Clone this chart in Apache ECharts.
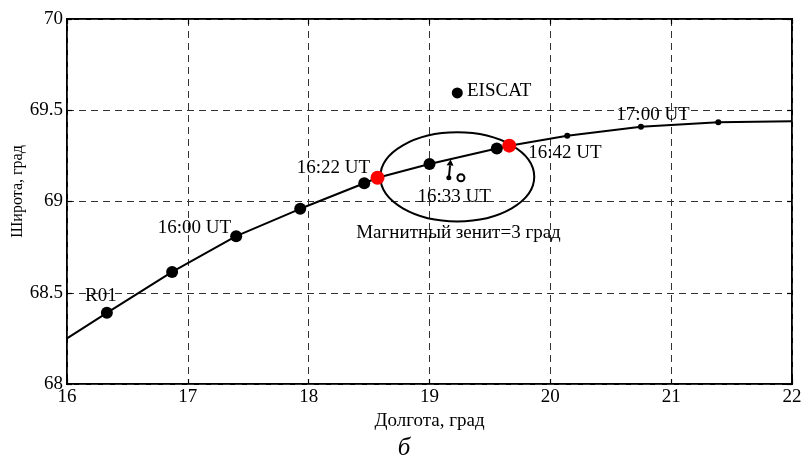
<!DOCTYPE html>
<html>
<head>
<meta charset="utf-8">
<script src="https://cdn.jsdelivr.net/npm/echarts@6/dist/echarts.min.js"></script>
<style>
  html, body { margin: 0; padding: 0; background: #fff; }
  #chart { width: 805px; height: 462px; }
</style>
</head>
<body>
<div id="chart"></div>
<script>
// Satellite footprint track: longitude / latitude (degrees)
var trackPath = [
  [16.00, 68.25], [16.33, 68.39], [16.87, 68.614], [17.40, 68.81],
  [17.93, 68.96], [18.46, 69.10], [18.57, 69.13], [19.00, 69.205],
  [19.557, 69.29], [19.66, 69.306], [20.14, 69.36], [20.75, 69.41],
  [21.39, 69.434], [22.00, 69.44]
];
// Track markers
var bigDots = [
  [16.33, 68.39], [16.87, 68.614], [17.40, 68.81], [17.93, 68.96],
  [18.46, 69.10], [19.00, 69.205], [19.557, 69.29]
];
var smallDots = [[20.14, 69.36], [20.75, 69.41], [21.39, 69.434]];
var redDots = [[18.57, 69.13], [19.66, 69.306]];
// EISCAT site
var eiscat = [[19.23, 69.595]];
// Magnetic zenith point and direction arrow
var zenithRing = [[19.26, 69.13]];
var arrowSeg = [[19.16, 69.13, 19.175, 69.23]];
// Field of view ellipse: centre lon, centre lat, half-width lon, half-height lat
var fovEllipse = [[19.23, 69.135, 0.637, 0.244]];
// Text annotations: lon, lat, text, align
var notes = [
  [16.28, 68.48, 'R01', 'center'],
  [17.055, 68.855, '16:00 UT', 'center'],
  [18.204, 69.184, '16:22 UT', 'center'],
  [19.205, 69.027, '16:33 UT', 'center'],
  [20.12, 69.268, '16:42 UT', 'center'],
  [20.85, 69.474, '17:00 UT', 'center'],
  [19.31, 69.605, 'EISCAT', 'left'],
  [19.24, 68.827, 'Магнитный зенит=3 град', 'center']
];
var xTicks = [16, 17, 18, 19, 20, 21, 22];
var yTicks = [68, 68.5, 69, 69.5, 70];

var FONT = '"Liberation Serif", "Times New Roman", serif';
var FS = 19;

var chart = echarts.init(document.getElementById('chart'), null, { renderer: 'canvas' });

var dashGrid = { show: true, lineStyle: { color: '#333', type: [7, 5], width: 1 } };
var innerTick = { show: true, inside: true, length: 5, lineStyle: { color: '#000', width: 1.2 } };

chart.setOption({
  animation: false,
  backgroundColor: '#fff',
  grid: {
    left: 67, right: 13, top: 19, bottom: 78,
    containLabel: false, outerBoundsMode: 'none',
    show: true, borderColor: '#000', borderWidth: 2, backgroundColor: 'transparent'
  },
  xAxis: [{
    type: 'value', min: xTicks[0], max: xTicks[xTicks.length - 1], interval: 1,
    name: 'Долгота, град', nameLocation: 'middle', nameGap: 19,
    nameTextStyle: { fontFamily: FONT, fontSize: FS, color: '#000' },
    axisLine: { show: false },
    axisTick: innerTick,
    axisLabel: { fontFamily: FONT, fontSize: FS, color: '#000', margin: 4 },
    splitLine: dashGrid
  }, {
    type: 'value', position: 'top', min: xTicks[0], max: xTicks[xTicks.length - 1], interval: 1,
    axisLine: { show: false },
    axisTick: innerTick,
    axisLabel: { show: false }, splitLine: { show: false }
  }],
  yAxis: [{
    type: 'value', min: yTicks[0], max: yTicks[yTicks.length - 1], interval: 0.5,
    name: 'Широта, град', nameLocation: 'middle', nameGap: 49, nameRotate: 90,
    nameMoveOverlap: false,
    nameTextStyle: { fontFamily: FONT, fontSize: 16, color: '#000', verticalAlign: 'middle',
      padding: [0, 0, 0, 20] },
    axisLine: { show: false },
    axisTick: innerTick,
    axisLabel: { fontFamily: FONT, fontSize: FS, color: '#000', margin: 4 },
    splitLine: dashGrid
  }, {
    type: 'value', position: 'right', min: yTicks[0], max: yTicks[yTicks.length - 1], interval: 0.5,
    axisLine: { show: false },
    axisTick: innerTick,
    axisLabel: { show: false }, splitLine: { show: false }
  }],
  graphic: [{
    type: 'text', x: 404, y: 448,
    style: { text: 'б', font: 'italic 25px ' + FONT, fill: '#000', align: 'center', verticalAlign: 'middle' }
  }],
  series: [
    {
      type: 'custom', name: 'fov', coordinateSystem: 'cartesian2d', data: fovEllipse, z: 2,
      renderItem: function (params, api) {
        var c = api.coord([api.value(0), api.value(1)]);
        var s = api.size([api.value(2), api.value(3)]);
        return {
          type: 'ellipse',
          shape: { cx: c[0], cy: c[1], rx: s[0], ry: s[1] },
          style: { fill: 'none', stroke: '#000', lineWidth: 2 }
        };
      }
    },
    {
      type: 'line', name: 'track', data: trackPath, showSymbol: false, symbol: 'none',
      smooth: false,
      lineStyle: { color: '#000', width: 2 }, z: 3
    },
    {
      type: 'scatter', data: bigDots, symbol: 'circle', symbolSize: 12,
      itemStyle: { color: '#000', opacity: 1 }, z: 4
    },
    {
      type: 'scatter', data: smallDots, symbol: 'circle', symbolSize: 6,
      itemStyle: { color: '#000', opacity: 1 }, z: 4
    },
    {
      type: 'scatter', data: redDots, symbol: 'circle', symbolSize: 14,
      itemStyle: { color: '#ff0000', opacity: 1 }, z: 5
    },
    {
      type: 'scatter', data: eiscat, symbol: 'circle', symbolSize: 11,
      itemStyle: { color: '#000', opacity: 1 }, z: 4
    },
    {
      type: 'scatter', data: zenithRing, symbol: 'circle', symbolSize: 7,
      itemStyle: { color: '#fff', borderColor: '#000', borderWidth: 2, opacity: 1 }, z: 4
    },
    {
      type: 'custom', name: 'arrow', coordinateSystem: 'cartesian2d', data: arrowSeg, z: 4,
      renderItem: function (params, api) {
        var a = api.coord([api.value(0), api.value(1)]);
        var b = api.coord([api.value(2), api.value(3)]);
        var dx = b[0] - a[0], dy = b[1] - a[1];
        var len = Math.sqrt(dx * dx + dy * dy);
        var ux = dx / len, uy = dy / len;
        var hl = 6, hw = 3.5;
        var base = [b[0] - ux * hl, b[1] - uy * hl];
        return {
          type: 'group',
          children: [
            { type: 'circle', shape: { cx: a[0], cy: a[1], r: 2.5 }, style: { fill: '#000' } },
            { type: 'line', shape: { x1: a[0], y1: a[1], x2: base[0], y2: base[1] },
              style: { stroke: '#000', lineWidth: 2 } },
            { type: 'polygon', shape: { points: [
                [b[0], b[1]],
                [base[0] - uy * hw, base[1] + ux * hw],
                [base[0] + uy * hw, base[1] - ux * hw]
              ] }, style: { fill: '#000' } }
          ]
        };
      }
    },
    {
      type: 'scatter', name: 'notes', symbolSize: 0, z: 6,
      itemStyle: { opacity: 1 },
      data: notes.map(function (n) {
        return {
          value: [n[0], n[1]],
          label: {
            show: true, position: 'inside', formatter: n[2],
            align: n[3], verticalAlign: 'middle',
            fontFamily: FONT, fontSize: FS, color: '#000'
          }
        };
      })
    }
  ]
});
</script>
</body>
</html>
